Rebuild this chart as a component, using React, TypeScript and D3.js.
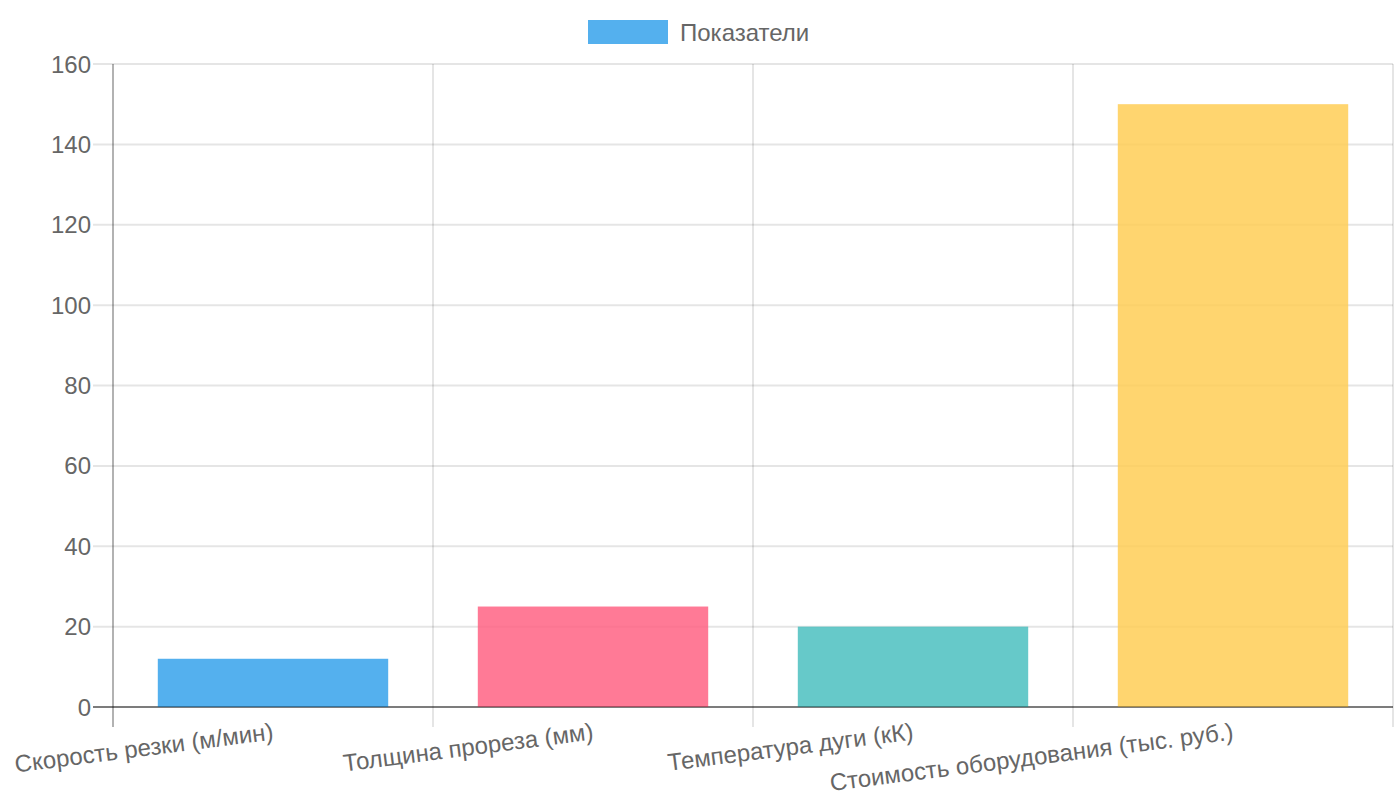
import React from "react";
import * as d3 from "d3";

const categories = [
  "Скорость резки (м/мин)",
  "Толщина прореза (мм)",
  "Температура дуги (кК)",
  "Стоимость оборудования (тыс. руб.)",
];
const values = [12, 25, 20, 150];
const fills = [
  "rgba(54,162,235,0.85)",
  "rgba(255,99,132,0.85)",
  "rgba(75,192,192,0.85)",
  "rgba(255,206,86,0.85)",
];
const yTicks = [0, 20, 40, 60, 80, 100, 120, 140, 160];
const seriesName = "Показатели";

const W = 1400;
const H = 800;
const left = 113;
const right = 1393;
const top = 64;
const bottom = 707;
const tickLen = 20;
const FONT = "'Liberation Sans', Arial, Helvetica, sans-serif";

export default function App() {
  const x = d3.scaleBand<string>().domain(categories).range([left, right]).paddingInner(0).paddingOuter(0);
  const y = d3.scaleLinear().domain([0, 160]).range([bottom, top]);
  const bw = x.bandwidth();
  const barW = bw * 0.72;
  const bounds = categories.map((c) => x(c) as number).concat([right]);

  return (
    <svg
      width={W}
      height={H}
      style={{ position: "absolute", left: 0, top: 0, background: "#fff" }}
      fontFamily={FONT}
    >
      {/* legend */}
      <rect x={588} y={20} width={80} height={24} fill={fills[0]} />
      <text x={680} y={32} dominantBaseline="central" fontSize={24} fill="#666">
        {seriesName}
      </text>

      {/* horizontal grid */}
      {yTicks.map((t) => (
        <g key={t}>
          <line
            x1={left - tickLen}
            x2={right}
            y1={y(t)}
            y2={y(t)}
            stroke={t === 0 ? "rgba(0,0,0,0.3)" : "rgba(0,0,0,0.1)"}
            strokeWidth={2}
          />
          <text
            x={left - tickLen - 2}
            y={y(t)}
            textAnchor="end"
            dominantBaseline="central"
            fontSize={24}
            fill="#666"
          >
            {t}
          </text>
        </g>
      ))}

      {/* vertical grid */}
      {bounds.map((bx, i) => (
        <line
          key={i}
          x1={bx}
          x2={bx}
          y1={top}
          y2={bottom + tickLen}
          stroke={i === 0 ? "rgba(0,0,0,0.3)" : "rgba(0,0,0,0.1)"}
          strokeWidth={2}
        />
      ))}

      {/* bars */}
      {categories.map((c, i) => {
        const cx = (x(c) as number) + bw / 2;
        return (
          <rect
            key={c}
            x={cx - barW / 2}
            y={y(values[i])}
            width={barW}
            height={bottom - y(values[i])}
            fill={fills[i]}
          />
        );
      })}

      {/* redraw zero line on top */}
      <line x1={left - tickLen} x2={right} y1={bottom} y2={bottom} stroke="rgba(0,0,0,0.3)" strokeWidth={2} />

      {/* x labels */}
      {categories.map((c) => {
        const cx = (x(c) as number) + bw / 2;
        return (
          <text
            key={c}
            transform={`translate(${cx},731) rotate(-7.3)`}
            textAnchor="end"
            dominantBaseline="central"
            fontSize={24}
            fill="#666"
          >
            {c}
          </text>
        );
      })}
    </svg>
  );
}
